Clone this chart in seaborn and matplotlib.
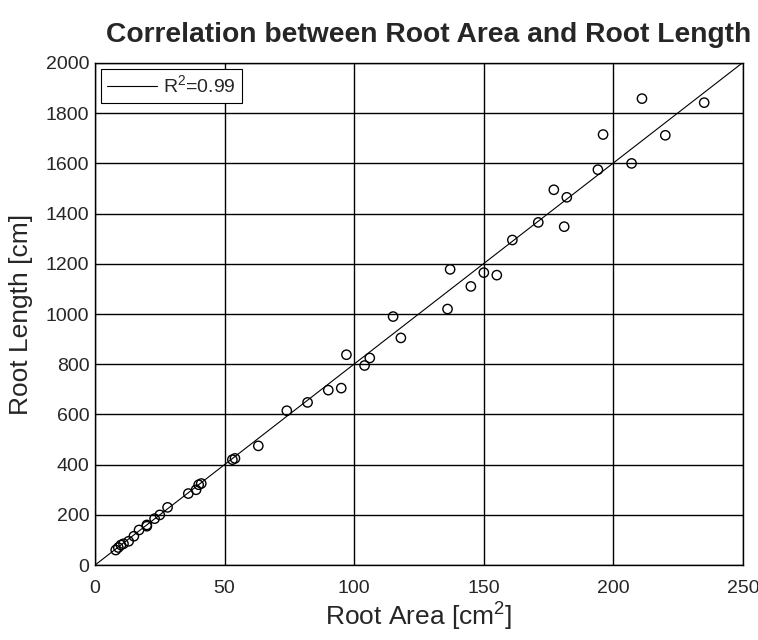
import numpy as np
import pandas as pd
import matplotlib.pyplot as plt
import seaborn as sns

root_area = [8, 9, 10, 11, 13, 15, 17, 20, 20, 23, 25, 28, 36, 39, 40, 41,
             53, 54, 63, 74, 82, 90, 95, 97, 104, 106, 115, 118, 136, 137,
             145, 150, 155, 161, 171, 177, 181, 182, 194, 196, 207, 211, 220, 235]
root_length = [60, 70, 80, 85, 95, 115, 140, 155, 160, 185, 200, 230, 285, 300, 320, 325,
               420, 425, 475, 615, 648, 697, 705, 838, 795, 825, 990, 905, 1020, 1178,
               1110, 1165, 1155, 1295, 1365, 1495, 1348, 1465, 1575, 1715, 1600, 1858, 1712, 1842]
r2_label = 'R$^2$=0.99'

df = pd.DataFrame({'area': root_area, 'length': root_length})

sns.set_style('white')
plt.rcParams['font.family'] = ['Liberation Sans', 'DejaVu Sans']
plt.rcParams['mathtext.fontset'] = 'custom'
plt.rcParams['mathtext.rm'] = 'Liberation Sans'

fig = plt.figure(figsize=(7.58, 6.4), dpi=100)
ax = fig.add_axes([0.1253, 0.117, 0.855, 0.7846])

# least squares fit through origin
slope = np.sum(df.area * df.length) / np.sum(df.area ** 2)
xfit = np.array([0, 250])
ax.plot(xfit, slope * xfit, color='black', lw=0.8, label=r2_label, zorder=3)

sns.scatterplot(data=df, x='area', y='length', ax=ax, marker='o', s=45,
                facecolors='none', edgecolor='black', linewidth=1.0, zorder=4)

ax.set_xlim(0, 250)
ax.set_ylim(0, 2000)
ax.set_xticks(np.arange(0, 251, 50))
ax.set_yticks(np.arange(0, 2001, 200))
ax.grid(True, color='black', lw=1.0)
ax.tick_params(direction='in', labelsize=14, length=5, color='black')
ax.tick_params(axis='x', pad=11)
ax.tick_params(axis='y', pad=4)
for sp in ax.spines.values():
    sp.set_color('black')
    sp.set_linewidth(1.0)

ax.set_xlabel('Root Area [cm$^2$]', fontsize=19, labelpad=1)
ax.set_ylabel('Root Length [cm]', fontsize=19, labelpad=9)
ax.set_title('Correlation between Root Area and Root Length', fontsize=20.3,
             fontweight='bold', pad=15, x=0.515)

leg = ax.legend(loc='upper left', fontsize=14, fancybox=False, framealpha=1,
                edgecolor='black', handlelength=2.6, borderaxespad=0.3,
                borderpad=0.3, handletextpad=0.3)
leg.get_frame().set_linewidth(0.8)

plt.savefig('out.png', dpi=100)
